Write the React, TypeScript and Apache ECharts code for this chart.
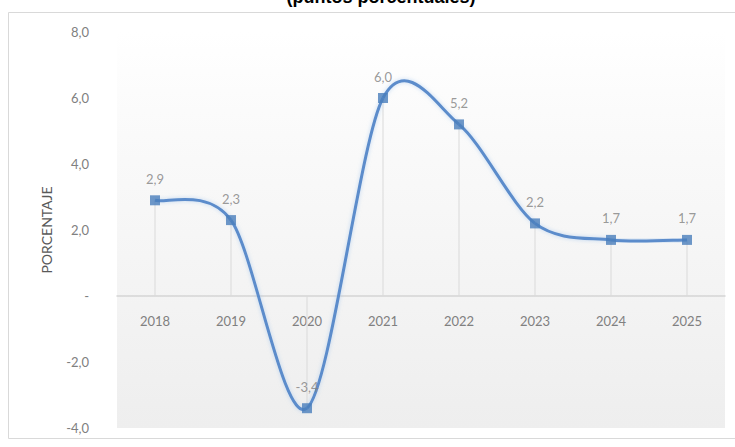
import React, { useEffect, useRef } from "react";
import * as echarts from "echarts";

// Tasa de crecimiento anual (puntos porcentuales)
const years = ["2018", "2019", "2020", "2021", "2022", "2023", "2024", "2025"];
const growth = [2.9, 2.3, -3.4, 6.0, 5.2, 2.2, 1.7, 1.7];
const yTicks = { min: -4, max: 8, step: 2 };
const titleText = "(puntos porcentuales)";
const yAxisTitle = "PORCENTAJE";

const fmt = (v: number) => (v === 0 ? "-" : v.toFixed(1).replace(".", ","));

// Cardinal-spline tension used for the smoothed line segments
const TENSION = 1 / 6.5;

export default function App() {
  const ref = useRef<HTMLDivElement>(null);

  useEffect(() => {
    if (!ref.current) return;
    const chart = echarts.init(ref.current, null, { renderer: "svg" });
    const font = "Lato, 'Open Sans', sans-serif";
    const points = growth.map((v, i) => [i, v]);

    // Each item draws the curve segment from its point to the next one,
    // with control points taken from the neighbouring points.
    const renderSegment = (params: any, api: any) => {
      const i = params.dataIndex;
      const n = growth.length;
      if (i >= n - 1) return null;
      const at = (k: number) => {
        const j = Math.max(0, Math.min(n - 1, k));
        return api.coord([j, growth[j]]);
      };
      const p0 = at(i - 1);
      const p1 = at(i);
      const p2 = at(i + 1);
      const p3 = at(i + 2);
      return {
        type: "bezierCurve",
        shape: {
          x1: p1[0],
          y1: p1[1],
          cpx1: p1[0] + (p2[0] - p0[0]) * TENSION,
          cpy1: p1[1] + (p2[1] - p0[1]) * TENSION,
          cpx2: p2[0] - (p3[0] - p1[0]) * TENSION,
          cpy2: p2[1] - (p3[1] - p1[1]) * TENSION,
          x2: p2[0],
          y2: p2[1],
        },
        style: {
          stroke: "#5b8ccb",
          lineWidth: 3,
          fill: null,
          shadowColor: "rgba(150,190,235,0.6)",
          shadowBlur: 4,
        },
      };
    };

    chart.setOption({
      animation: false,
      backgroundColor: "#ffffff",
      graphic: [
        {
          type: "rect",
          z: -10,
          shape: { x: 8.5, y: 12.5, width: 760, height: 426 },
          style: { fill: "#ffffff", stroke: "#d9d9d9", lineWidth: 1 },
        },
        {
          type: "text",
          x: 381,
          y: -3,
          z: 10,
          style: {
            text: titleText,
            fontSize: 18,
            fontWeight: "bold",
            fontFamily: "'Liberation Sans', Arial, sans-serif",
            fill: "#000000",
            align: "center",
            verticalAlign: "middle",
          },
        },
      ],
      grid: {
        left: 117,
        right: 10,
        top: 32,
        bottom: 19,
        show: true,
        borderWidth: 0,
        backgroundColor: {
          type: "linear",
          x: 0,
          y: 0,
          x2: 0,
          y2: 1,
          colorStops: [
            { offset: 0, color: "#ffffff" },
            { offset: 0.2, color: "#fbfbfb" },
            { offset: 1, color: "#eeeeee" },
          ],
        },
      },
      xAxis: {
        type: "category",
        data: years,
        boundaryGap: true,
        axisLine: { onZero: true, lineStyle: { color: "#d5d5d5", width: 1.5 } },
        axisTick: { show: false },
        axisLabel: {
          color: "#808080",
          fontSize: 13,
          fontFamily: font,
          margin: -114,
        },
        splitLine: { show: false },
      },
      yAxis: {
        type: "value",
        min: yTicks.min,
        max: yTicks.max,
        interval: yTicks.step,
        name: yAxisTitle,
        nameLocation: "middle",
        nameRotate: 90,
        nameGap: 64,
        nameTextStyle: { color: "#595959", fontSize: 14, fontFamily: font },
        axisLine: { show: false },
        axisTick: { show: false },
        splitLine: { show: false },
        axisLabel: {
          color: "#808080",
          fontSize: 13,
          fontFamily: font,
          margin: 28,
          formatter: (v: number) => fmt(v),
        },
      },
      series: [
        {
          type: "bar",
          data: growth,
          barWidth: 1,
          barGap: "-100%",
          silent: true,
          itemStyle: { color: "#d9d9d9" },
          z: 1,
        },
        {
          type: "custom",
          data: points,
          encode: { x: 0, y: 1 },
          renderItem: renderSegment,
          silent: true,
          z: 3,
        },
        {
          type: "scatter",
          data: points,
          symbol: "rect",
          symbolSize: 10,
          z: 4,
          itemStyle: { color: "#4a7ebb" },
          label: {
            show: true,
            position: "top",
            distance: 10,
            color: "#808080",
            fontSize: 13,
            fontFamily: font,
            formatter: (p: any) => fmt(p.value[1]),
          },
        },
      ],
    });
    return () => chart.dispose();
  }, []);

  return (
    <div
      ref={ref}
      style={{ position: "fixed", left: 0, top: 0, width: 735, height: 447 }}
    />
  );
}
